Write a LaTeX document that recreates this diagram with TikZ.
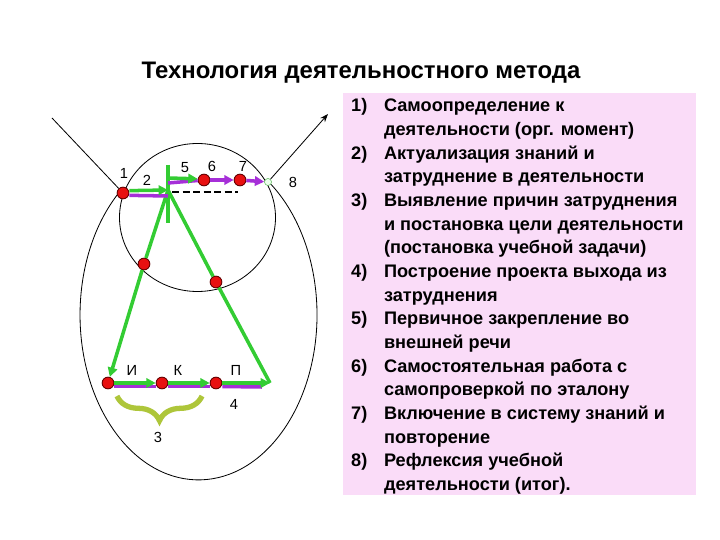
\documentclass[tikz,border=0pt]{standalone}
\usepackage{fontspec}
\setmainfont{Liberation Sans}
\usetikzlibrary{arrows.meta, decorations.pathreplacing}
\definecolor{lineg}{HTML}{33CC33}
\definecolor{linev}{HTML}{A62FD8}
\definecolor{dotred}{HTML}{E81010}
\definecolor{pinkbg}{HTML}{FADCF8}
\definecolor{bracec}{HTML}{AEC63A}

\begin{document}
\begin{tikzpicture}[x=0.03cm, y=-0.03cm,
  dot/.style={circle, draw=black!60!red, fill=dotred, minimum size=10pt, inner sep=0pt, line width=0.8pt},
  gline/.style={draw=lineg, line width=3pt},
  garrow/.style={gline, -{Triangle[length=8pt,width=8pt]}},
  vline/.style={draw=linev, line width=3pt},
  varrow/.style={vline, -{Triangle[length=8pt,width=8pt]}},
  lbl/.style={font=\fontsize{12.5}{14}\selectfont},
  thinline/.style={draw=black, line width=0.7pt}]
  \useasboundingbox[fill=white] (0,0) rectangle (720,540);

  % Заголовок
  \node[font=\bfseries\fontsize{20.4}{24}\selectfont] (title) at (361,73) {Технология деятельностного метода};

  % Этапы урока
  \fill[pinkbg] (343,93) rectangle (696,495);
  \node[anchor=north west, inner sep=0pt, font=\bfseries\fontsize{15.5}{20.2}\selectfont] (steps) at (351,95) {%
    \begin{tabular}{@{}p{28pt}@{}l@{}}
      1) & Самоопределение к\\
         & деятельности (орг. момент)\\
      2) & Актуализация знаний и\\
         & затруднение в деятельности\\
      3) & Выявление причин затруднения\\
         & и постановка цели деятельности\\
         & (постановка учебной задачи)\\
      4) & Построение проекта выхода из\\
         & затруднения\\
      5) & Первичное закрепление во\\
         & внешней речи\\
      6) & Самостоятельная работа с\\
         & самопроверкой по эталону\\
      7) & Включение в систему знаний и\\
         & повторение\\
      8) & Рефлексия учебной\\
         & деятельности (итог).
    \end{tabular}};

  % Круг и овал
  \draw[thinline] (197.5,217.5) ellipse[x radius=78, y radius=74];
  \draw[thinline] (121.1,190) arc[start angle=229.2, end angle=-53, x radius=118.5, y radius=165];

  % Точки
  \coordinate (start) at (52,118);
  \coordinate (exit) at (328,114);
  \coordinate (apex) at (168,190);
  \coordinate (vtop) at (168,165);
  \coordinate (vbot) at (168,223);
  \coordinate (corner) at (270,383);
  \node[dot] (p1) at (123,193) {};
  \node[dot] (p6) at (204,180) {};
  \node[dot] (p7) at (240,180) {};
  \node[circle, draw=gray!60!green, fill=green!8, minimum size=6pt, inner sep=0pt] (p8) at (268,182) {};
  \node[dot] (c1) at (144,264) {};
  \node[dot] (c2) at (216,282) {};
  \node[dot] (pi) at (108,383) {};
  \node[dot] (pk) at (162,383) {};
  \node[dot] (pp) at (216,383) {};

  % Вход и выход
  \draw[thinline] (start) -- (p1);
  \draw[thinline, -{Stealth[length=7pt]}] (p8) -- (exit);

  % Треугольник
  \draw[gline] (vtop) -- (vbot);
  \draw[gline, -{Triangle[length=8pt,width=8pt]}] (apex) -- (c1) -- (pi);
  \draw[gline] (corner) -- (c2) -- (apex);

  % Верхние стрелки
  \draw[vline] ([yshift=-2pt]p1.east) -- (168,196);
  \draw[garrow] ([yshift=2pt]p1.east) -- (apex);
  \draw[vline] (168,183) -- (p6);
  \draw[garrow] (168,178) -- ([yshift=1pt]p6.west);
  \draw[varrow] (p6) -- (p7);
  \draw[varrow] (p7) -- (p8);
  \draw[thinline, line width=1.2pt, dash pattern=on 6pt off 3pt] (172,192) -- (238,192);

  % Нижние стрелки
  \draw[vline] ([yshift=-3pt]pi.east) -- ([yshift=-3pt]pk.west);
  \draw[vline] ([yshift=-3pt]pk.east) -- ([yshift=-3pt]pp.west);
  \draw[vline] ([yshift=-3pt]pp.east) -- (262,387);
  \draw[garrow] (pi) -- (pk);
  \draw[garrow] (pk) -- (pp);
  \draw[garrow] (pp) -- (corner);

  % Скобка
  \draw[bracec, line width=4.5pt, decorate,
        decoration={brace, mirror, amplitude=21pt}] (117,396) -- (202,396);

  % Подписи
  \node[lbl] (l1) at (124,173) {1};
  \node[lbl] (l2) at (147,180) {2};
  \node[lbl] (l5) at (185,168) {5};
  \node[lbl] (l6) at (212,166) {6};
  \node[lbl] (l7) at (243,166) {7};
  \node[lbl] (l8) at (293,182) {8};
  \node[lbl] (li) at (132,370) {И};
  \node[lbl] (lk) at (178,370) {К};
  \node[lbl] (lp) at (236,370) {П};
  \node[lbl] (l4) at (234,404) {4};
  \node[lbl] (l3) at (158,437) {3};
\end{tikzpicture}
\end{document}
